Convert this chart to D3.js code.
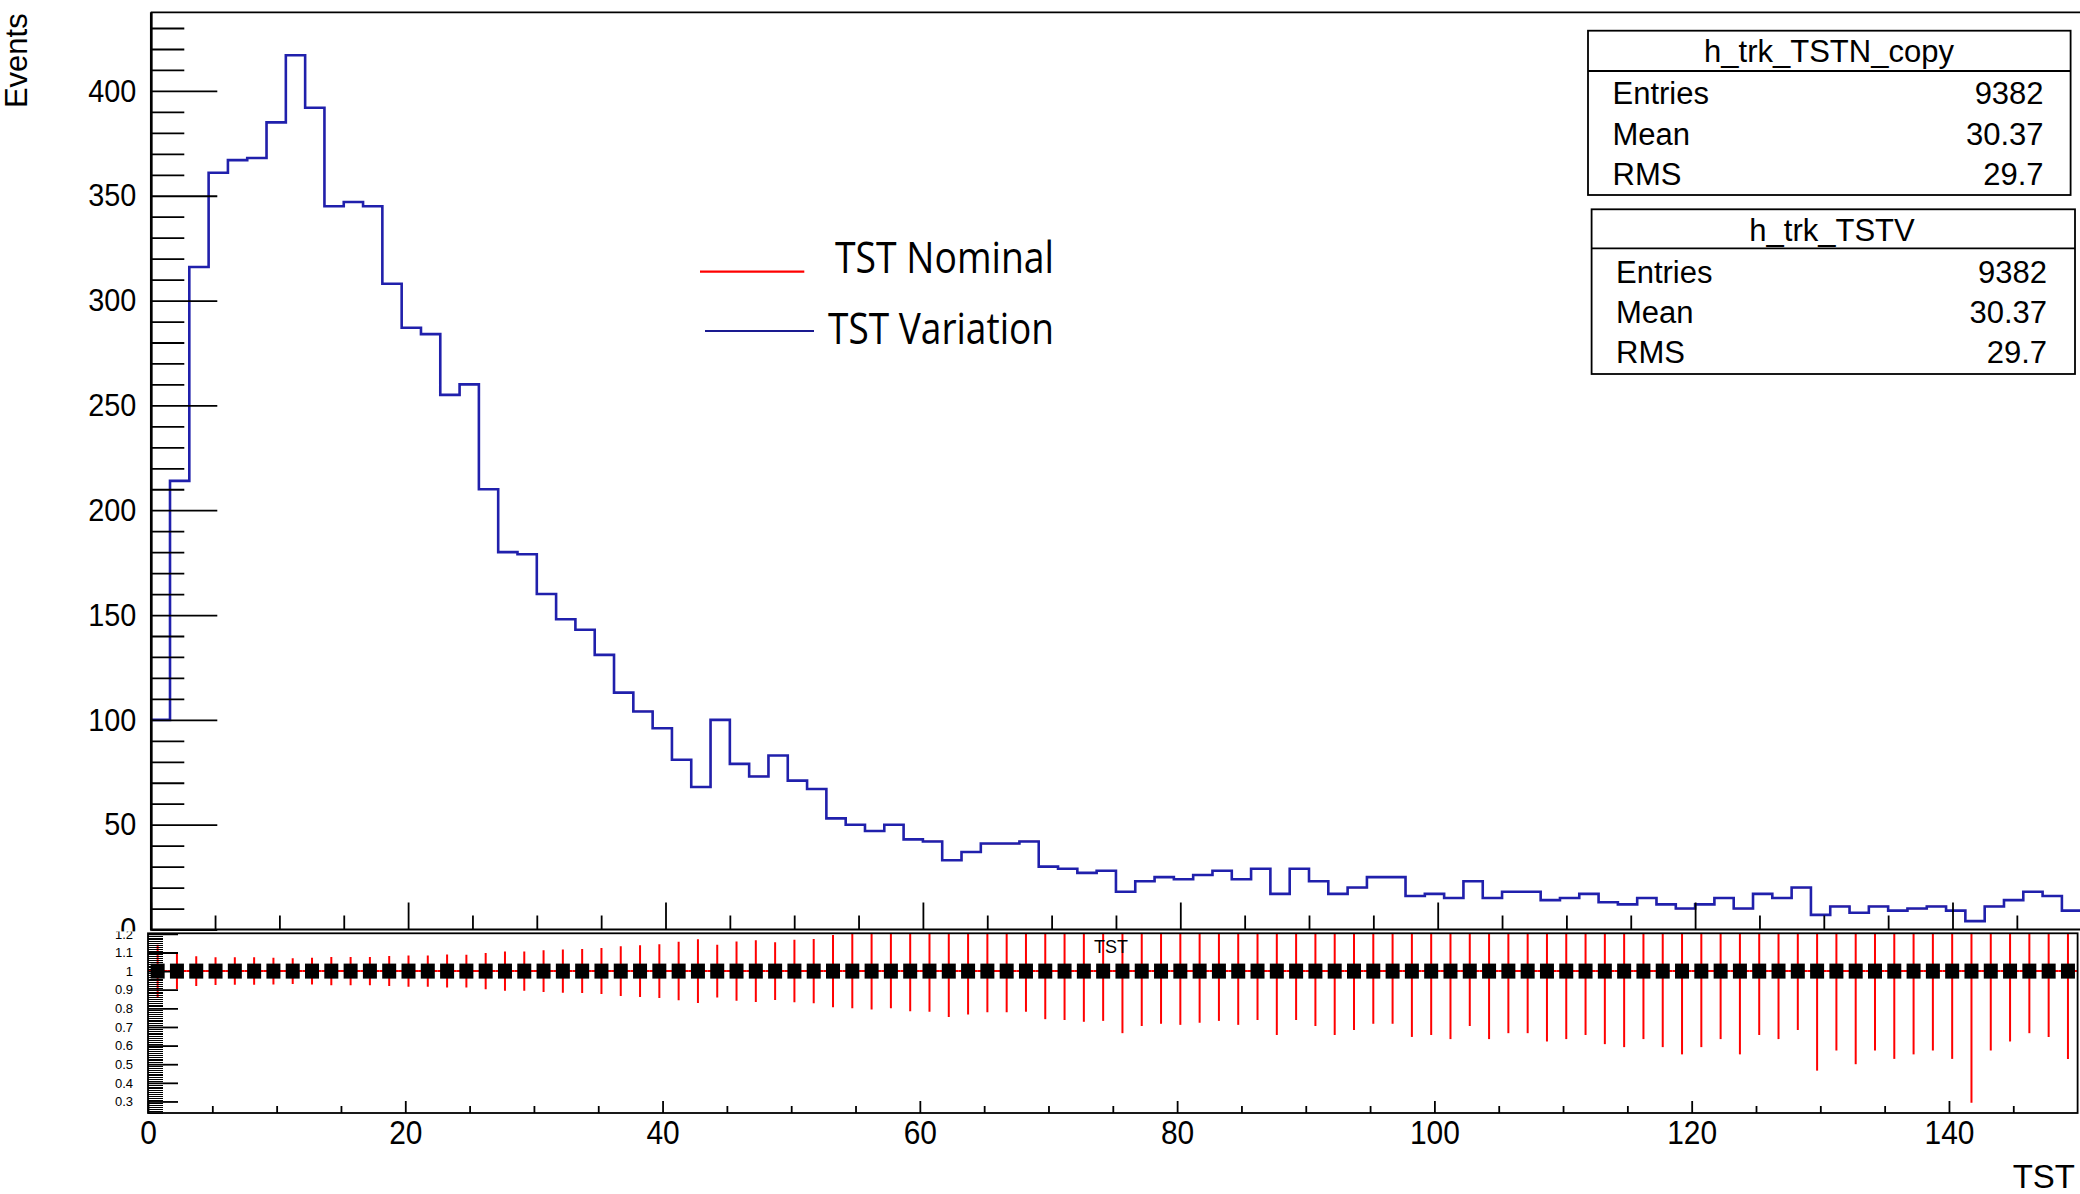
<!DOCTYPE html>
<html><head><meta charset="utf-8">
<script src="https://cdn.jsdelivr.net/npm/d3@7"></script>
<style>
html,body{margin:0;padding:0;background:#fff;}
svg{display:block;}
text{font-family:"Liberation Sans",Arial,Helvetica,sans-serif;fill:#000;}
</style></head><body>
<svg id="c" width="2080" height="1194"></svg>
<script>
// ---------------- data ----------------
const binLow = 0, binHigh = 150, nBins = 100;
const nominalCounts = [100,214,316,361,367,368,385,417,392,345,
  347,345,308,287,284,255,260,210,180,179,
  160,148,143,131,113,104,96,81,68,100,
  79,73,83,71,67,53,50,47,50,43,
  42,33,37,41,41,42,30,29,27,28,
  18,23,25,24,26,28,24,29,17,29,
  23,17,20,25,25,16,17,15,23,15,
  18,18,14,15,17,13,12,15,12,10,
  12,15,10,17,15,20,7,11,8,11,
  9,10,11,9,4,11,14,18,16,9];
const variationCounts = [100,214,316,361,367,368,385,417,392,345,
  347,345,308,287,284,255,260,210,180,179,
  160,148,143,131,113,104,96,81,68,100,
  79,73,83,71,67,53,50,47,50,43,
  42,33,37,41,41,42,30,29,27,28,
  18,23,25,24,26,28,24,29,17,29,
  23,17,20,25,25,16,17,15,23,15,
  18,18,14,15,17,13,12,15,12,10,
  12,15,10,17,15,20,7,11,8,11,
  9,10,11,9,4,11,14,18,16,9];
const yTickLabels = [0,50,100,150,200,250,300,350,400];
const xTickLabels = [0,20,40,60,80,100,120,140];
const ratioTickLabels = [0.3,0.4,0.5,0.6,0.7,0.8,0.9,1,1.1,1.2];
const legendLabels = ["TST Nominal","TST Variation"];
const statNames = ["h_trk_TSTN_copy","h_trk_TSTV"];
const statRowLabels = ["Entries","Mean","RMS"];
const statValues = [["9382","30.37","29.7"],["9382","30.37","29.7"]];
const xTitle = "TST", yTitle = "Events", ratioTitle = "TST";

// ---------------- layout ----------------
const svg = d3.select("#c");
const BLUE = "#2020ac", RED = "#ff0000";
const xTop = d3.scaleLinear().domain([binLow,binHigh]).range([150.7,2081.2]);
const yTop = d3.scaleLinear().domain([0,437.5]).range([929.5,12.3]);
const xBot = d3.scaleLinear().domain([binLow,binHigh]).range([148,2077.6]);
const yBot = d3.scaleLinear().domain([0.238,1.203]).range([1113,933.3]);

const binW = (binHigh-binLow)/nBins;
const bins = nominalCounts.map((c,i)=>({lo:binLow+i*binW, hi:binLow+(i+1)*binW, nom:c, vari:variationCounts[i]}));

function squeeze(sel,k){
  sel.each(function(){
    const w=this.getComputedTextLength();
    this.setAttribute("textLength",(w*k).toFixed(2));
    this.setAttribute("lengthAdjust","spacingAndGlyphs");
  });
}

const defs = svg.append("defs");
defs.append("clipPath").attr("id","topPad").append("rect").attr("x",0).attr("y",0).attr("width",2080).attr("height",931.5);
defs.append("clipPath").attr("id","topPlot").append("rect").attr("x",150.7).attr("y",12.3).attr("width",1930).attr("height",929.5-12.3);
defs.append("clipPath").attr("id","botPad").append("rect").attr("x",0).attr("y",931.5).attr("width",2080).attr("height",1194-931.5);
defs.append("clipPath").attr("id","botPlot").append("rect").attr("x",148).attr("y",933.3).attr("width",2077.6-148).attr("height",1113-933.3);

// ---------------- top pad ----------------
const topG = svg.append("g").attr("clip-path","url(#topPad)");
const plotTop = topG.append("g").attr("clip-path","url(#topPlot)");

function histPts(key){
  const pts = bins.map(b=>[b.lo,b[key]]);
  pts.push([binHigh,bins[bins.length-1][key]]);
  return pts;
}
const stepLine = d3.line().x(d=>xTop(d[0])).y(d=>yTop(d[1])).curve(d3.curveStepAfter);
// nominal (red) lies exactly beneath the variation (blue)
plotTop.append("path").attr("d",stepLine(histPts("nom"))).attr("fill","none").attr("stroke",RED).attr("stroke-width",1.2);
plotTop.append("path").attr("d",stepLine(histPts("vari"))).attr("fill","none").attr("stroke",BLUE).attr("stroke-width",2.6);

// y axis (major + minor)
const yMajor = topG.append("g").attr("transform","translate(151.3,0)")
  .call(d3.axisLeft(yTop).tickValues(yTickLabels).tickSize(-66).tickPadding(15).tickFormat(d3.format("d")));
const yMinor = topG.append("g").attr("transform","translate(151.3,0)")
  .call(d3.axisLeft(yTop).tickValues(d3.range(10,440,10).filter(v=>v%50!==0)).tickSize(-33).tickFormat(""));
[yMajor,yMinor].forEach(g=>{g.select(".domain").remove(); g.selectAll("line").attr("stroke","#000").attr("stroke-width",1.8);});
yMajor.selectAll("text").attr("font-size",null).style("font-size","32px").style("font-family",'"Liberation Sans",Arial,sans-serif');
squeeze(yMajor.selectAll("text"),0.9);

// x axis ticks in top pad
const xtMajor = topG.append("g").attr("transform","translate(0,929.5)")
  .call(d3.axisBottom(xTop).tickValues(xTickLabels).tickSize(-27).tickFormat(""));
const xtMinor = topG.append("g").attr("transform","translate(0,929.5)")
  .call(d3.axisBottom(xTop).tickValues(d3.range(5,150,5).filter(v=>v%20!==0)).tickSize(-14).tickFormat(""));
[xtMajor,xtMinor].forEach(g=>{g.select(".domain").remove(); g.selectAll("line").attr("stroke","#000").attr("stroke-width",1.8);});

// frame lines
topG.append("line").attr("x1",150.7).attr("x2",2080).attr("y1",12.3).attr("y2",12.3).attr("stroke","#000").attr("stroke-width",1.8);
topG.append("line").attr("x1",150).attr("x2",2080).attr("y1",929.5).attr("y2",929.5).attr("stroke","#000").attr("stroke-width",2);
topG.append("line").attr("x1",151.3).attr("x2",151.3).attr("y1",12.3).attr("y2",930.5).attr("stroke","#000").attr("stroke-width",2.7);

// y title
topG.append("text").attr("transform","translate(26.5,13.3) rotate(-90)").attr("text-anchor","end")
  .style("font-size","31px").text(yTitle);

// legend
const legY = [271.7,331];
const legLine = [[700,804.3],[705,814]];
const legTextX = [835,828], legTextY = [272.7,344], legTextW = [219,226];
const legColors = [RED,"#1a1a90"];
legendLabels.forEach((lab,i)=>{
  topG.append("line").attr("x1",legLine[i][0]).attr("x2",legLine[i][1]).attr("y1",legY[i]).attr("y2",legY[i])
    .attr("stroke",legColors[i]).attr("stroke-width",2.2);
  topG.append("text").attr("x",legTextX[i]).attr("y",legTextY[i])
    .style("font-family",'"Open Sans","Noto Sans",sans-serif').style("font-size","43px")
    .attr("textLength",legTextW[i]).attr("lengthAdjust","spacingAndGlyphs").text(lab);
});

// stats boxes
const boxes = [
  {x0:1588,x1:2070.6,y0:30.7,y1:195,div:71,titleX:1829,titleY:61.5,left:1612.5,right:2043.6,rows:[104,145,185]},
  {x0:1591.6,x1:2075,y0:209.3,y1:374,div:248.3,titleX:1832,titleY:240.7,left:1616,right:2047,rows:[282.7,323.3,363.3]}
];
boxes.forEach((b,i)=>{
  topG.append("rect").attr("x",b.x0).attr("y",b.y0).attr("width",b.x1-b.x0).attr("height",b.y1-b.y0)
    .attr("fill","#fff").attr("stroke","#000").attr("stroke-width",1.8);
  topG.append("line").attr("x1",b.x0).attr("x2",b.x1).attr("y1",b.div).attr("y2",b.div).attr("stroke","#000").attr("stroke-width",1.8);
  topG.append("text").attr("x",b.titleX).attr("y",b.titleY).attr("text-anchor","middle").style("font-size","31px").text(statNames[i]);
  statRowLabels.forEach((r,j)=>{
    topG.append("text").attr("x",b.left).attr("y",b.rows[j]).style("font-size","31px").text(r);
    topG.append("text").attr("x",b.right).attr("y",b.rows[j]).attr("text-anchor","end").style("font-size","31px").text(statValues[i][j]);
  });
});

// ---------------- bottom pad ----------------
const botG = svg.append("g").attr("clip-path","url(#botPad)");
botG.append("rect").attr("x",0).attr("y",931.5).attr("width",2080).attr("height",1194-931.5).attr("fill","#fff");
const plotBot = botG.append("g").attr("clip-path","url(#botPlot)");

const ratio = bins.map(b=>{
  const r = b.nom/b.vari;
  const e = r*Math.sqrt(1/b.nom+1/b.vari);
  return {lo:b.lo,hi:b.hi,c:(b.lo+b.hi)/2,r:r,e:e};
});
plotBot.selectAll("line.hx").data(ratio).enter().append("line")
  .attr("x1",d=>xBot(d.lo)).attr("x2",d=>xBot(d.hi)).attr("y1",d=>yBot(d.r)).attr("y2",d=>yBot(d.r))
  .attr("stroke",RED).attr("stroke-width",2);
plotBot.selectAll("line.vy").data(ratio).enter().append("line")
  .attr("x1",d=>xBot(d.c)).attr("x2",d=>xBot(d.c)).attr("y1",d=>yBot(d.r-d.e)).attr("y2",d=>yBot(d.r+d.e))
  .attr("stroke",RED).attr("stroke-width",2);
plotBot.selectAll("rect.m").data(ratio).enter().append("rect")
  .attr("x",d=>xBot(d.c)-7).attr("y",d=>yBot(d.r)-7.5).attr("width",14).attr("height",15).attr("fill","#000");

// ratio title
botG.append("text").attr("x",1111).attr("y",953).attr("text-anchor","middle").style("font-size","18px").text(ratioTitle);

// ratio y axis
const ryMajor = botG.append("g").attr("transform","translate(148,0)")
  .call(d3.axisLeft(yBot).tickValues(ratioTickLabels).tickSize(-30).tickPadding(15).tickFormat(d3.format("~g")));
const ryMinor = botG.append("g").attr("transform","translate(148,0)")
  .call(d3.axisLeft(yBot).tickValues(d3.range(24,121).filter(v=>v%10!==0).map(v=>v/100)).tickSize(-15).tickFormat(""));
[ryMajor,ryMinor].forEach(g=>{g.select(".domain").remove();});
ryMinor.selectAll("line").attr("stroke","#000").attr("stroke-width",1).attr("shape-rendering","crispEdges");
ryMajor.selectAll("line").attr("stroke","#000").attr("stroke-width",1.8);
ryMajor.selectAll("text").attr("font-size",null).style("font-size","13px").style("font-family",'"Liberation Sans",Arial,sans-serif');

// ratio x axis
const rxMajor = botG.append("g").attr("transform","translate(0,1113)")
  .call(d3.axisBottom(xBot).tickValues(xTickLabels).tickSize(-12).tickPadding(7).tickFormat(d3.format("d")));
const rxMinor = botG.append("g").attr("transform","translate(0,1113)")
  .call(d3.axisBottom(xBot).tickValues(d3.range(5,150,5).filter(v=>v%20!==0)).tickSize(-7).tickFormat(""));
[rxMajor,rxMinor].forEach(g=>{g.select(".domain").remove(); g.selectAll("line").attr("stroke","#000").attr("stroke-width",1.8);});
rxMajor.selectAll("text").attr("font-size",null).style("font-size","34px").style("font-family",'"Liberation Sans",Arial,sans-serif');
squeeze(rxMajor.selectAll("text"),0.88);

// frame
botG.append("rect").attr("x",148).attr("y",933.3).attr("width",2077.6-148).attr("height",1113-933.3)
  .attr("fill","none").attr("stroke","#000").attr("stroke-width",1.8);

// x title
const xt = botG.append("text").attr("x",2075).attr("y",1188).attr("text-anchor","end").style("font-size","34px").text(xTitle);
squeeze(xt,0.97);
</script>
</body></html>
